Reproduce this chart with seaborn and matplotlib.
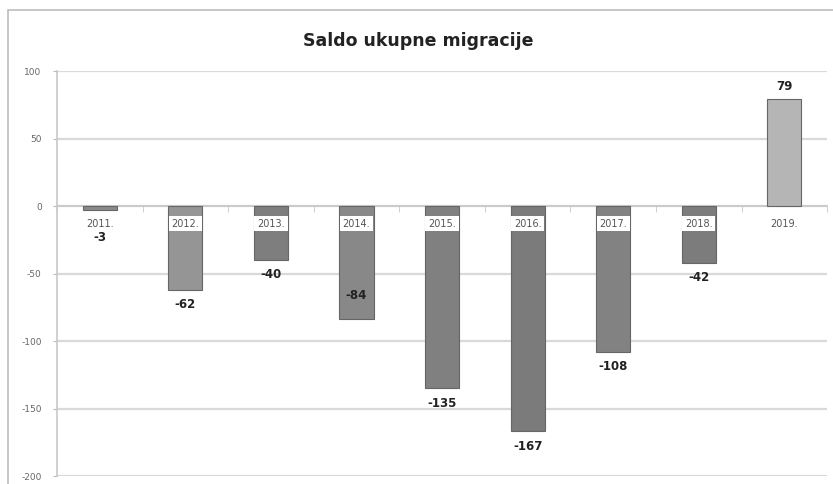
import matplotlib
matplotlib.use("Agg")
import matplotlib.pyplot as plt
import seaborn as sns
import pandas as pd
from matplotlib.patches import Rectangle

years = ["2011.", "2012.", "2013.", "2014.", "2015.", "2016.", "2017.", "2018.", "2019."]
saldo = [-3, -62, -40, -84, -135, -167, -108, -42, 79]
bar_colors = ["#8a8a8a", "#959595", "#7e7e7e", "#888888", "#808080",
              "#7b7b7b", "#828282", "#7c7c7c", "#b5b5b5"]
# label offsets (points) from bar end, -84 sits inside its bar
label_pad = [15, 6, 6, -22, 6, 6, 6, 6, 5]

df = pd.DataFrame({"godina": years, "saldo": saldo})

sns.set_style("white")
plt.rcParams["font.family"] = ["DejaVu Sans"]
plt.rcParams["axes.unicode_minus"] = False

fig = plt.figure(figsize=(8.33, 4.84), dpi=100)
ax = fig.add_axes([0.0684, 0.0165, 0.9246, 0.8365])

sns.barplot(data=df, x="godina", y="saldo", hue="godina", palette=bar_colors,
            legend=False, width=0.4, edgecolor="#666666", linewidth=0.8,
            ax=ax, zorder=3)

ax.set_ylim(-200, 100)
ax.set_xlim(-0.5, len(years) - 0.5)
ax.set_yticks(range(-200, 101, 50))
ax.yaxis.grid(True, color="#d9d9d9", linewidth=1.6)
ax.set_axisbelow(True)
ax.tick_params(axis="y", labelsize=6.5, labelcolor="#666666", length=3,
               color="#bbbbbb", pad=8, left=True)

# category axis sits on the zero line
ax.spines["bottom"].set_position(("data", 0))
ax.spines["bottom"].set_color("#c8c8c8")
ax.spines["bottom"].set_linewidth(1.2)
ax.spines["left"].set_color("#c8c8c8")
ax.spines["left"].set_linewidth(1.2)
ax.spines["top"].set_visible(False)
ax.spines["right"].set_visible(False)
ax.set_xticks(range(len(years)))
ax.set_xticks([i + 0.5 for i in range(-1, len(years))], minor=True)
ax.tick_params(axis="x", which="major", length=0, pad=9, labelsize=7,
               labelcolor="#555555")
ax.tick_params(axis="x", which="minor", length=4, color="#c8c8c8", bottom=True)
for lbl in ax.get_xticklabels():
    lbl.set_bbox(dict(facecolor="white", edgecolor="none", pad=2.0))
ax.xaxis.set_zorder(4)
ax.set_xlabel("")
ax.set_ylabel("")

bars = [c[0] for c in ax.containers]
for bar, pad, v in zip(bars, label_pad, saldo):
    ax.annotate(f"{v}", xy=(bar.get_x() + bar.get_width() / 2, v),
                xytext=(0, pad if v > 0 else -pad), textcoords="offset points",
                ha="center", va="bottom" if v > 0 else "top",
                fontsize=8.5, fontweight="bold", color="#222222", zorder=6)

fig.text(0.502, 0.915, "Saldo ukupne migracije", ha="center", va="center",
         fontsize=12.5, fontweight="bold", color="#222222")

fig.patches.append(Rectangle((0.0096, -0.01), 1.0, 0.99, transform=fig.transFigure,
                             fill=False, edgecolor="#bdbdbd", linewidth=1.2))

fig.savefig("out.png", dpi=100)
